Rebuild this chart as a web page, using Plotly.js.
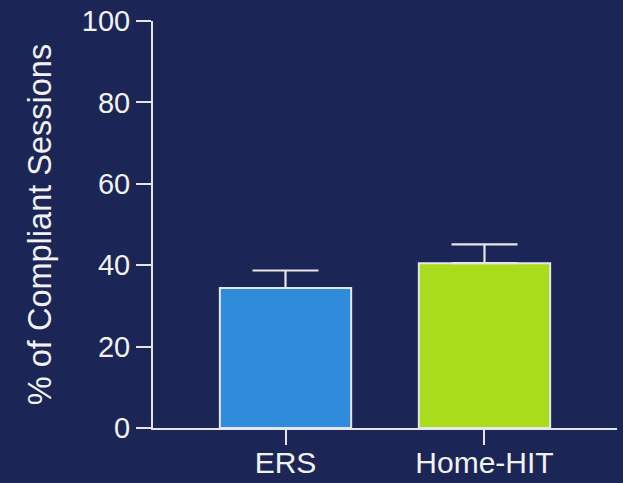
<!DOCTYPE html>
<html>
<head>
<meta charset="utf-8">
<script src="https://cdn.plot.ly/plotly-3.0.1.min.js"></script>
<style>html,body{margin:0;padding:0;background:#1c2656;}#chart{width:623px;height:483px;}</style>
</head>
<body>
<div id="chart"></div>
<script>
const categories = ["ERS", "Home-HIT"];
const values = [34.4, 40.5];
const errors = [4.3, 4.6];
const barColors = ["#2e8cdb", "#a9dc1b"];
const yTicks = [0, 20, 40, 60, 80, 100];

const bg = "#1c2656";
const fg = "#e6e6ea";

Plotly.newPlot("chart", [{
  type: "bar",
  x: categories,
  y: values,
  width: 0.66,
  marker: {color: barColors, line: {color: fg, width: 2}},
  error_y: {type: "data", symmetric: false, array: errors, arrayminus: [0, 0], color: fg, thickness: 2.2, width: 33},
  hoverinfo: "none"
}], {
  width: 623, height: 483,
  paper_bgcolor: bg, plot_bgcolor: bg,
  margin: {l: 153, r: 6, t: 21, b: 55},
  font: {family: "Liberation Sans, Arial, sans-serif", color: "#f2f2f2"},
  showlegend: false,
  bargap: 0,
  xaxis: {
    type: "category", range: [-0.666, 1.666],
    showline: true, linecolor: fg, linewidth: 2,
    ticks: "outside", ticklen: 15, tickwidth: 2, tickcolor: fg,
    tickfont: {size: 30, color: "#f2f2f2"},
    ticklabelstandoff: -8,
    showgrid: false, zeroline: false, fixedrange: true
  },
  yaxis: {
    range: [0, 100], tickvals: yTicks, ticktext: yTicks.map(String),
    showline: true, linecolor: fg, linewidth: 2,
    ticks: "outside", ticklen: 15, tickwidth: 2, tickcolor: fg,
    tickfont: {size: 29, color: "#f2f2f2"},
    ticklabelstandoff: 0,
    showgrid: false, zeroline: false, fixedrange: true,
    title: {text: "% of Compliant Sessions", font: {size: 32.5, color: "#f2f2f2"}, standoff: 20}
  }
}, {displayModeBar: false, staticPlot: true});
</script>
</body>
</html>
